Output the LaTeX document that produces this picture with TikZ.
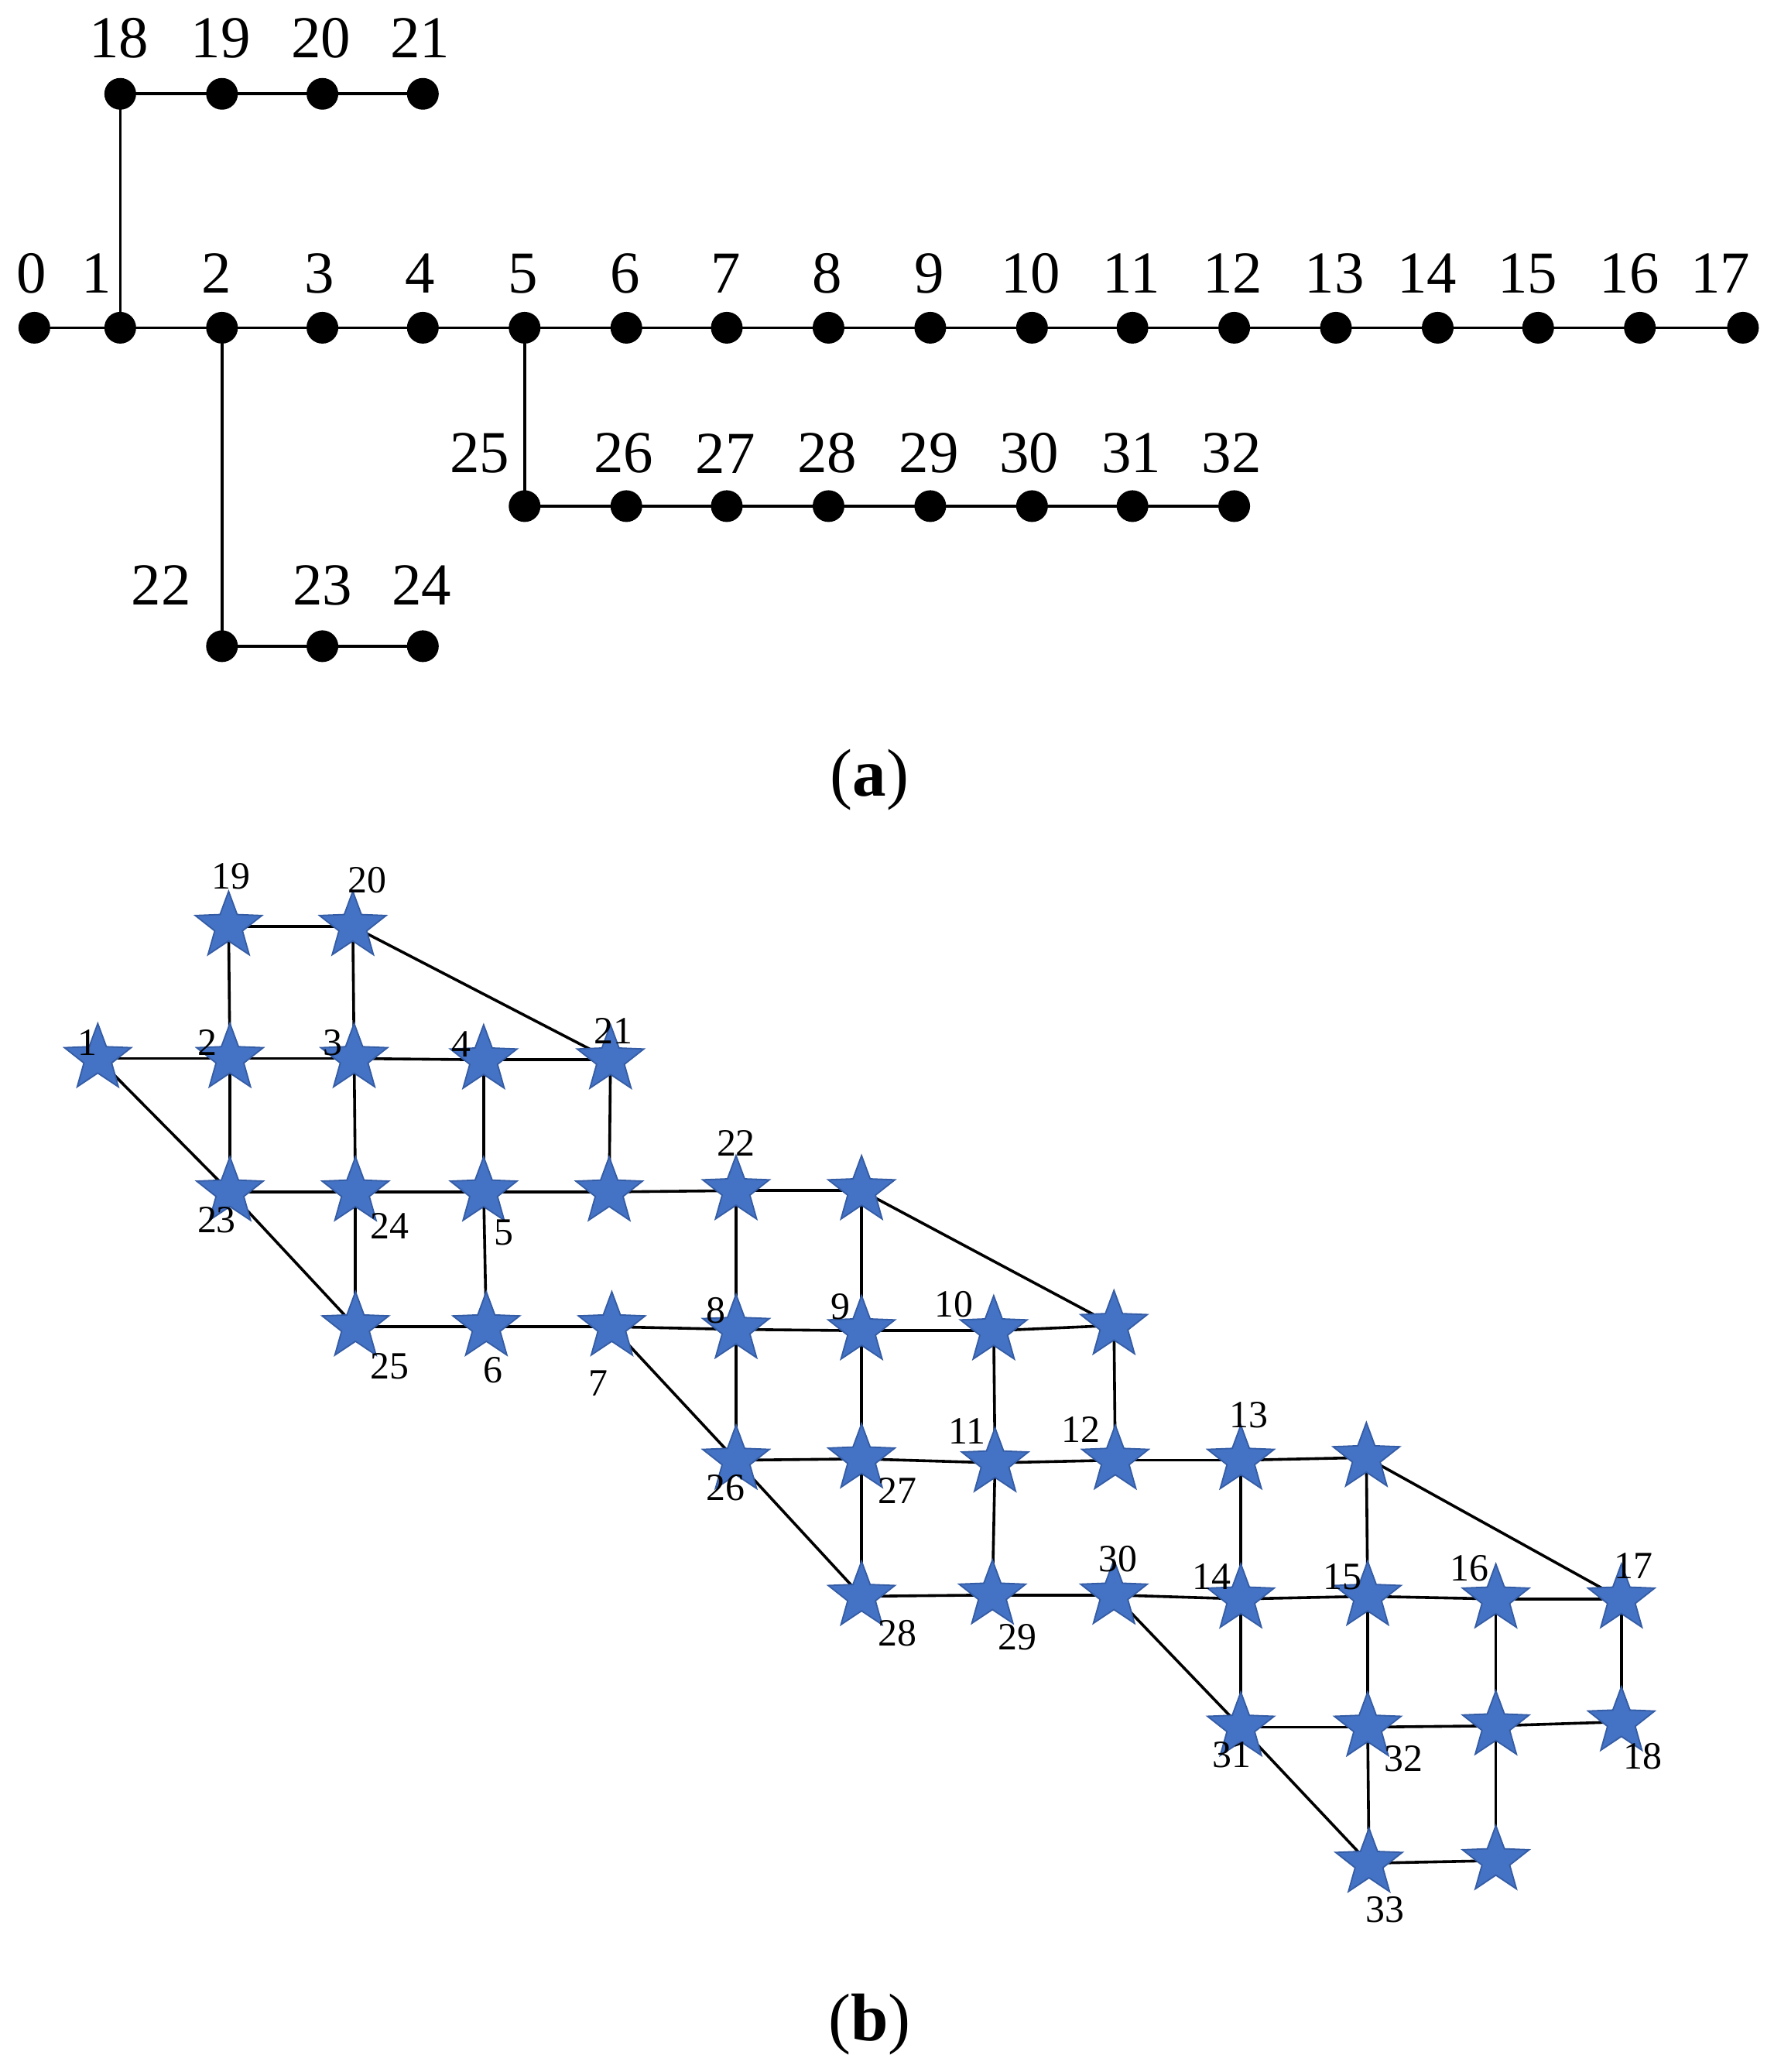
\documentclass[tikz,border=0pt]{standalone}
\usepackage{fontspec}
\setmainfont{Liberation Serif}
\usetikzlibrary{shapes.geometric,backgrounds}
\definecolor{starblue}{RGB}{68,114,196}
\definecolor{stardark}{RGB}{52,92,165}
\begin{document}
\begin{tikzpicture}[x=0.01cm,y=-0.01cm,
  dot/.style={circle,fill=black,inner sep=0pt,minimum size=0.24cm},
  bstar/.style={star,star points=5,star point ratio=2.4,fill=starblue,draw=stardark,line width=0.3pt,inner sep=0pt,outer sep=0pt,minimum size=0.53cm},
  labA/.style={inner sep=0pt,font=\fontsize{12.8}{14}\selectfont},
  labB/.style={inner sep=0pt,font=\fontsize{8.3}{10}\selectfont},
  captext/.style={inner sep=0pt,font=\fontsize{14.5}{16}\selectfont},
  wire/.style={line width=0.6pt,black}]
\useasboundingbox (0,0) rectangle (1342,1568);

% ---------------- (a) ----------------
\foreach \i/\x in {0/26,1/91,2/168,3/244,4/320,5/397,6/474,7/550,8/627,9/704,10/781,11/857,12/934,13/1011,14/1088,15/1164,16/1241,17/1319}
  \node[dot] (a\i) at (\x,248) {};
\foreach \i/\x in {18/91,19/168,20/244,21/320}
  \node[dot] (a\i) at (\x,71) {};
\foreach \i/\x in {22/168,23/244,24/320}
  \node[dot] (a\i) at (\x,489) {};
\foreach \i/\x in {25/397,26/474,27/550,28/627,29/704,30/781,31/857,32/934}
  \node[dot] (a\i) at (\x,383) {};

\foreach \i/\x in {0/24,1/73,2/164,3/242,4/318,5/396,6/473,7/549,8/626,9/703,10/780,11/856,12/933,13/1010,14/1080,15/1156,16/1233,17/1302}
  \node[labA] (la\i) at (\x,207) {\i};
\foreach \i/\x in {18/90,19/167,20/243,21/318}
  \node[labA] (la\i) at (\x,29) {\i};
\foreach \i/\x in {22/122,23/244,24/319}
  \node[labA] (la\i) at (\x,443) {\i};
\foreach \i/\x in {25/363,26/472,27/549,28/626,29/703,30/779,31/856,32/932}
  \node[labA] (la\i) at (\x,343) {\i};

\begin{scope}[on background layer]
  \foreach \a/\b in {0/1,1/2,2/3,3/4,4/5,5/6,6/7,7/8,8/9,9/10,10/11,11/12,12/13,13/14,14/15,15/16,16/17,
                     1/18,18/19,19/20,20/21,2/22,22/23,23/24,5/25,25/26,26/27,27/28,28/29,29/30,30/31,31/32}
    \draw[wire] (a\a.center) -- (a\b.center);
\end{scope}

\node[captext] (capa) at (658,590) {(\textbf{a})};

% ---------------- (b) ----------------
\foreach \n/\x/\y in {
  19/173/701, 20/267/701,
  1/74/801, 2/174/801, 3/268/801, 4/366/802, 21/462/802,
  23/174/902, 24/269/902, 5/366/902, u1/461/902, 22/557/901, u2/652/901,
  25/269/1004, 6/368/1004, 7/463/1004, 8/557/1006, 9/652/1007, 10/752/1007, u3/843/1003,
  26/557/1105, 27/652/1104, 11/753/1107, 12/844/1105, 13/939/1105, u4/1034/1103,
  28/652/1208, 29/751/1207, 30/843/1207, 14/939/1210, 15/1035/1208, 16/1132/1210, 17/1227/1210,
  31/939/1307, 32/1035/1307, u5/1132/1306, 18/1227/1303,
  33/1036/1410, u6/1132/1408}
  \node[bstar] (s\n) at (\x,\y) {};

\begin{scope}[on background layer]
  \foreach \a/\b in {19/20,19/2,20/3,20/21,
    1/2,2/3,3/4,4/21,1/23,
    2/23,3/24,4/5,21/u1,
    23/24,24/5,5/u1,u1/22,22/u2,
    23/25,24/25,5/6,22/8,u2/9,u2/u3,
    25/6,6/7,7/8,8/9,9/10,10/u3,
    7/26,8/26,9/27,10/11,u3/12,
    26/27,27/11,11/12,12/13,13/u4,
    26/28,27/28,11/29,13/14,u4/15,u4/17,
    28/29,29/30,30/14,14/15,15/16,16/17,
    30/31,14/31,15/32,16/u5,17/18,
    31/32,32/u5,u5/18,
    31/33,32/33,u5/u6,33/u6}
    \draw[wire] (s\a.center) -- (s\b.center);
\end{scope}

\foreach \n/\x/\y in {
  19/175/663, 20/278/666, 1/66/789, 2/157/789, 3/252/789, 4/349/790, 21/464/780,
  22/557/865, 23/164/923, 24/295/928, 5/381/933,
  25/295/1034, 6/373/1037, 7/453/1047, 8/542/992, 9/636/989, 10/722/987,
  11/732/1083, 12/818/1082, 13/945/1071, 26/549/1126, 27/679/1128,
  28/679/1236, 29/770/1239, 30/846/1180, 14/917/1193, 15/1016/1193, 16/1112/1187, 17/1236/1185,
  31/932/1328, 32/1062/1331, 18/1243/1329, 33/1048/1445}
  \node[labB] (lb\n) at (\x,\y) {\n};

\node[captext] (capb) at (658,1532) {(\textbf{b})};
\end{tikzpicture}
\end{document}
